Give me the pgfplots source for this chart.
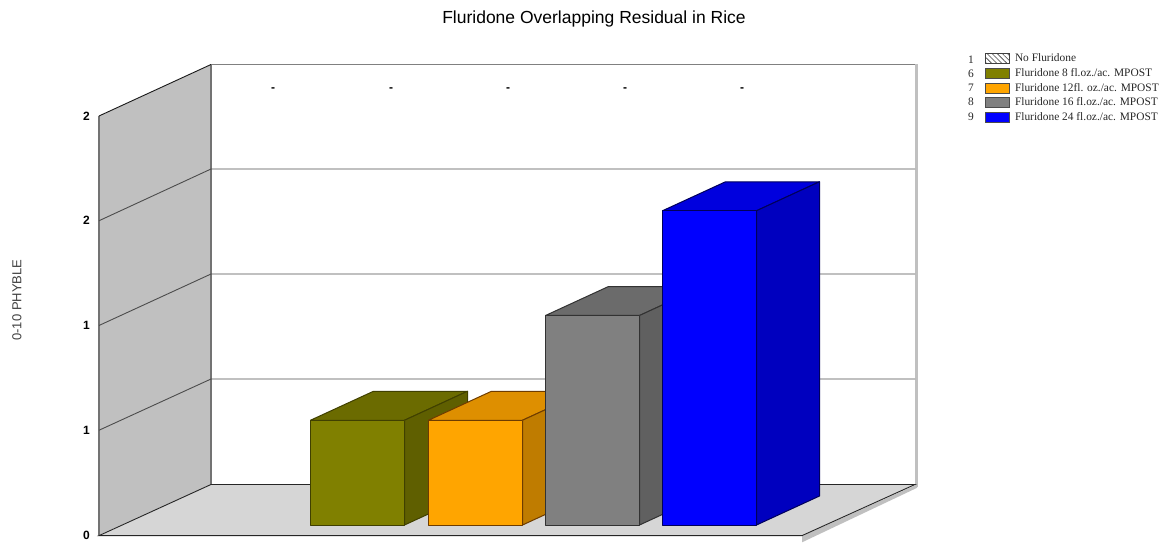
\documentclass[border=0pt]{standalone}
\usepackage{fontspec}
\setmainfont{Liberation Sans}
\newfontfamily\legendfont{Liberation Serif}
\usepackage{pgfplots}
\pgfplotsset{compat=1.18}
\usetikzlibrary{patterns.meta}

% Oblique bar: left edge, value, front / top / side fill, edge colour.
% The front face sits a little in front of the floor's back edge; depth runs up and to the right.
\newcommand{\obliquebar}[6]{%
  \pgfmathsetmacro{\xr}{#1+94}%
  \pgfmathsetmacro{\xa}{#1+63}%
  \pgfmathsetmacro{\xb}{#1+157}%
  \pgfmathsetmacro{\yb}{0.0477}%
  \pgfmathsetmacro{\yt}{#2+0.0477}%
  \pgfmathsetmacro{\ybb}{0.0477+0.1384}%
  \pgfmathsetmacro{\ytb}{#2+0.0477+0.1384}%
  \addplot[forget plot,mark=none,fill=#4,draw=#6,line width=1pt,line join=round]
    coordinates {(#1,\yt) (\xa,\ytb) (\xb,\ytb) (\xr,\yt)} -- cycle;
  \addplot[forget plot,mark=none,fill=#5,draw=#6,line width=1pt,line join=round]
    coordinates {(\xr,\yb) (\xb,\ybb) (\xb,\ytb) (\xr,\yt)} -- cycle;
  \addplot[forget plot,mark=none,fill=#3,draw=#6,line width=1pt,line join=round]
    coordinates {(#1,\yb) (\xr,\yb) (\xr,\yt) (#1,\yt)} -- cycle;
}

\begin{document}
\begin{tikzpicture}
\begin{axis}[
  scale only axis,
  width=1065pt, height=535pt,
  xmin=99, xmax=1164, ymin=0, ymax=2.5537,
  clip=false,
  axis x line=none,
  axis y line=left,
  axis line style={draw=none},
  y axis line style={-},
  xtick=\empty,
  ytick={0,0.5,1,1.5,2},
  yticklabels={0,1,1,2,2},
  tick style={draw=none},
  major tick length=0pt,
  yticklabel style={font=\bfseries\fontsize{12}{14}\selectfont,text=black,inner sep=0pt,xshift=-9pt},
  title={Fluridone Overlapping Residual in Rice},
  title style={at={(0.4648,0.9682)},anchor=center,yshift=-8pt,font=\fontsize{17.5}{20}\selectfont,inner sep=0pt},
  ylabel={0-10 PHYBLE},
  ylabel style={at={(-0.077,0.439)},anchor=center,rotate=0,font=\fontsize{13}{15}\selectfont,text=black!75,inner sep=0pt},
  legend style={
    at={(axis cs:985,2.3)},anchor=north west,draw=none,fill=none,inner sep=0pt,
    nodes={inner sep=0pt,anchor=west,font=\legendfont\fontsize{11.4}{13}\selectfont,text=black!85},
    row sep=3.8pt,column sep=5pt,
  },
  legend cell align=left,
  legend image code/.code={\draw[#1,line width=.8pt] (0pt,-5pt) rectangle (24pt,5pt);},
]
% Legend swatches
\addlegendimage{draw=black!75,pattern={Lines[angle=-45,distance=3.6pt,line width=.6pt]},pattern color=black!75}
\addlegendentry{No Fluridone}
\addlegendimage{draw=black!70,fill={rgb,255:red,128;green,128;blue,0}}
\addlegendentry{Fluridone 8 fl.oz./ac. MPOST}
\addlegendimage{draw=black!70,fill={rgb,255:red,255;green,165;blue,0}}
\addlegendentry{Fluridone 12fl. oz./ac. MPOST}
\addlegendimage{draw=black!70,fill={rgb,255:red,128;green,128;blue,128}}
\addlegendentry{Fluridone 16 fl.oz./ac. MPOST}
\addlegendimage{draw=black!70,fill={rgb,255:red,0;green,0;blue,255}}
\addlegendentry{Fluridone 24 fl.oz./ac. MPOST}

% Floor shadow and floor
\addplot[forget plot,mark=none,fill={rgb,255:red,192;green,192;blue,192},draw=none]
  coordinates {(802,-0.005) (917,0.2411) (917,0.225) (802,-0.035)} -- cycle;
\addplot[forget plot,mark=none,fill={rgb,255:red,214;green,214;blue,214},draw=none]
  coordinates {(99,0) (211,0.2411) (915,0.2411) (802,-0.003)} -- cycle;

% Right edge of the back wall
\addplot[forget plot,mark=none,draw={rgb,255:red,192;green,192;blue,192},line width=3.5pt]
  coordinates {(916.5,0.2311) (916.5,2.2458)};

% Side wall
\addplot[forget plot,mark=none,fill={rgb,255:red,192;green,192;blue,192},draw=none]
  coordinates {(99,0) (211,0.2411) (211,2.2458) (99,2)} -- cycle;
\addplot[forget plot,mark=none,draw=black!55,line width=1.1pt] coordinates {(99,0) (99,2)};
\addplot[forget plot,mark=none,draw=black!55,line width=1.1pt] coordinates {(211,0.2411) (211,2.2458)};

% Grid lines across side wall and back wall
\addplot[forget plot,mark=none,draw=black!70,line width=.9pt] coordinates {(99,0.5) (211,0.7446) (915,0.7446)};
\addplot[forget plot,mark=none,draw=black!70,line width=.9pt] coordinates {(99,1) (211,1.2458) (915,1.2458)};
\addplot[forget plot,mark=none,draw=black!70,line width=.9pt] coordinates {(99,1.5) (211,1.747) (915,1.747)};
\addplot[forget plot,mark=none,draw=black!50,line width=1pt] coordinates {(211,2.2458) (915,2.2458)};
\addplot[forget plot,mark=none,draw=black!90,line width=.9pt] coordinates {(99,2) (211,2.2458)};

% Floor edges
\addplot[forget plot,mark=none,draw=black!85,line width=.9pt] coordinates {(802,-0.003) (99,-0.003) (211,0.2411) (915,0.2411) (802,-0.003)};

% Placeholder labels for every treatment
\addplot[forget plot,draw=none,mark=none,nodes near coords={-},
  every node near coord/.append style={anchor=center,inner sep=0pt,font=\bfseries\fontsize{12}{14}\selectfont}]
  coordinates {(273,2.128) (391,2.128) (508,2.128) (625,2.128) (742,2.128)};

% Bars
\definecolor{oF}{RGB}{128,128,0}\definecolor{oT}{RGB}{107,107,0}\definecolor{oS}{RGB}{95,95,0}\definecolor{oE}{RGB}{64,64,0}
\definecolor{aF}{RGB}{255,165,0}\definecolor{aT}{RGB}{222,143,0}\definecolor{aS}{RGB}{191,124,0}\definecolor{aE}{RGB}{110,60,0}
\definecolor{gF}{RGB}{128,128,128}\definecolor{gT}{RGB}{107,107,107}\definecolor{gS}{RGB}{96,96,96}\definecolor{gE}{RGB}{50,50,50}
\definecolor{bF}{RGB}{0,0,255}\definecolor{bT}{RGB}{0,0,222}\definecolor{bS}{RGB}{0,0,191}\definecolor{bE}{RGB}{0,0,90}
\obliquebar{310.5}{0.5}{oF}{oT}{oS}{oE}
\obliquebar{428.5}{0.5}{aF}{aT}{aS}{aE}
\obliquebar{545.5}{1.0}{gF}{gT}{gS}{gE}
\obliquebar{662.5}{1.5}{bF}{bT}{bS}{bE}

% Series numbers beside the legend
\addplot[forget plot,draw=none,mark=none,
  nodes near coords,
  point meta=explicit symbolic,
  every node near coord/.append style={anchor=center,inner sep=0pt,font=\legendfont\fontsize{11.4}{13}\selectfont,text=black!85}]
  coordinates {(971,2.2700)[1] (971,2.2030)[6] (971,2.1340)[7] (971,2.0670)[8] (971,1.9980)[9]};

% Page extent
\path (axis cs:0,-0.0382) rectangle (axis cs:1164,2.5537);
\end{axis}
\end{tikzpicture}
\end{document}
